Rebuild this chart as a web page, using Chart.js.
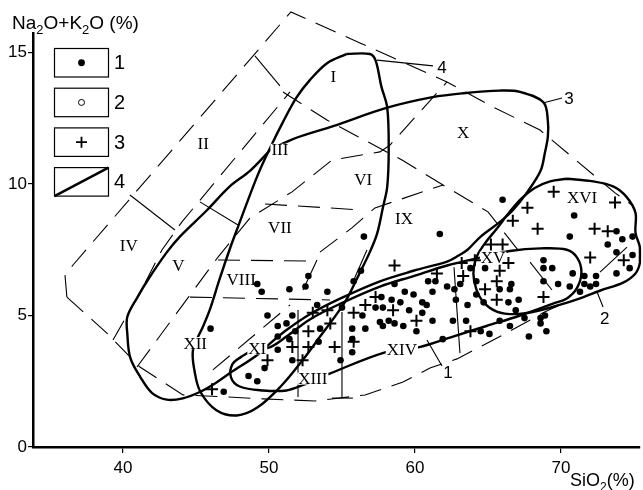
<!DOCTYPE html>
<html>
<head>
<meta charset="utf-8">
<script src="https://cdn.jsdelivr.net/npm/chart.js@4"></script>
<style>
  html, body { margin: 0; padding: 0; background: #fff; }
</style>
</head>
<body>
<canvas id="tas" width="643" height="490"></canvas>
<script>
const xTicks = [40, 50, 60, 70];
const yTicks = [0, 5, 10, 15];

// 1 - filled dots (SiO2, Na2O+K2O)
const dots = [
  [46.0,4.5],[46.9,2.1],[48.6,2.7],[49.2,2.5],[49.7,3.0],[50.6,3.7],[50.6,4.2],[51.4,4.1],[51.6,3.3],
  [49.9,5.0],[50.6,4.6],[51.2,4.7],[51.6,5.0],[51.8,4.4],[49.2,6.2],[49.5,5.9],[51.4,6.0],[52.5,6.1],
  [52.7,6.5],[54.0,5.9],[55.8,6.3],[56.3,6.7],[56.5,8.0],[53.4,4.0],[53.5,4.5],[54.9,3.3],[55.7,4.5],
  [55.7,4.1],[55.7,3.6],[55.0,5.3],[53.3,5.4],[56.4,5.0],[56.6,4.5],[57.3,5.3],[57.7,5.7],[57.8,5.3],
  [57.8,4.6],[58.4,5.6],[58.6,6.2],[58.6,4.7],[59.0,5.5],[59.3,5.9],[59.9,5.8],[60.1,4.4],[60.5,5.5],
  [60.8,5.4],[60.5,5.1],[61.2,5.9],[60.9,6.3],[61.4,6.3],[61.9,4.1],[62.2,6.1],[62.7,6.0],[63.1,6.2],
  [64.2,6.3],[64.2,5.8],[62.8,5.6],[63.6,5.4],[64.7,5.5],[65.8,6.0],[64.8,6.8],[63.8,6.8],[66.0,9.4],
  [61.7,8.1],[66.4,5.5],[67.1,5.6],[66.9,5.2],[66.6,6.2],[66.5,6.0],[68.8,7.1],[68.8,6.8],[69.4,6.8],
  [68.8,6.3],[69.8,6.2],[70.8,6.6],[70.6,6.1],[71.6,6.5],[72.4,6.5],[71.6,6.2],[72.0,6.1],[72.4,6.2],
  [71.3,5.9],[70.9,8.8],[70.6,8.0],[73.8,8.2],[74.9,8.0],[74.2,7.9],[73.2,7.7],[73.8,7.4],[74.9,7.3],
  [74.7,6.8],[73.8,6.6],[67.5,4.9],[68.6,4.9],[68.9,5.0],[68.6,4.7],[69.0,4.4],[67.8,4.2],[66.5,4.6],
  [65.8,4.8],[65.1,4.3],[64.5,4.4],[63.5,4.8],[62.6,4.8],[61.2,4.8],[58.2,4.8],[59.2,4.6],[57.6,4.75],
  [59.6,5.2]
];

// 3 - crosses
const pluses = [
  [46.1,2.2],[49.9,3.3],[51.6,3.8],[52.3,3.3],[52.7,3.8],[52.7,4.4],[53.0,5.1],[54.0,5.2],[54.2,4.7],
  [54.5,3.8],[55.8,5.1],[55.8,4.0],[56.6,5.4],[57.3,5.7],[58.5,5.2],[58.6,6.9],[60.1,4.8],[61.5,6.6],
  [63.2,7.0],[64.1,7.1],[63.3,6.5],[64.8,6.0],[65.6,6.3],[65.6,5.6],[65.8,6.7],[66.4,7.0],[65.2,7.7],
  [66.0,7.7],[66.7,8.6],[67.7,9.1],[68.4,8.3],[69.5,9.7],[68.8,5.7],[72.0,7.2],[72.3,8.3],[73.2,8.2],
  [73.7,9.3],[74.3,7.1],[63.8,4.4]
];

// outlined fields (thick curves)
const curveI = [
  [55.3,14.94],[56.9,14.94],[57.3,14.7],[57.7,13.7],[58.1,12.9],[58.2,11.3],[58.1,9.9],[57.8,9.1],
  [57.4,8.1],[56.9,7.4],[56.2,6.6],[55.4,5.7],[54.7,5.1],[53.5,4.2],[52.3,3.3],[50.8,2.3],[49.2,1.5],
  [47.8,1.2],[46.4,1.4],[45.3,2.1],[44.9,2.9],[44.8,3.7],[45.5,4.6],[46.0,5.3],[46.6,6.35],[47.3,7.5],
  [47.9,8.4],[49.2,10.3],[50.1,11.4],[51.0,12.4],[51.9,13.3],[52.8,13.95],[54.0,14.6],[55.3,14.94]
];
const curve1 = [
  [48.15,3.45],[49.0,3.7],[50.1,3.8],[51.2,4.2],[52.8,4.85],[54.9,5.45],[57.6,6.1],[59.9,6.5],[62.2,6.9],
  [64.45,7.2],[66.5,7.45],[68.6,7.55],[70.4,7.5],[71.1,7.2],[71.4,6.65],[71.1,6.05],[70.4,5.65],
  [69.45,5.45],[67.2,5.0],[64.9,4.6],[62.6,4.2],[60.3,3.8],[57.95,3.6],[54.2,2.8],[52.3,2.35],
  [51.2,2.15],[49.6,2.15],[48.0,2.3],[47.4,2.65],[47.5,3.15],[48.15,3.45]
];
const curve2 = [
  [70.4,10.2],[72.2,10.1],[73.6,9.9],[74.5,9.5],[75.1,8.9],[75.1,8.15],[75.4,7.6],[75.4,7.0],[75.1,6.6],
  [74.25,6.25],[72.7,5.95],[71.3,5.65],[69.9,5.4],[68.2,5.15],[66.85,5.05],[65.6,5.15],[64.7,5.5],
  [64.2,6.0],[64.0,6.6],[64.2,7.2],[64.8,7.75],[65.6,8.3],[66.5,8.95],[67.3,9.45],[68.2,9.85],
  [69.25,10.1],[70.4,10.2]
];
const curve3 = [
  [50.1,11.3],[51.6,11.7],[54.4,12.2],[58.1,12.9],[61.2,13.3],[63.3,13.45],[65.8,13.55],[67.2,13.5],
  [68.8,13.1],[69.1,12.4],[69.1,11.8],[68.9,11.2],[68.6,10.5],[67.7,9.7],[66.7,9.0],[65.8,8.55],
  [64.5,8.0],[63.6,7.5],[62.9,7.25],[62.2,7.05],[59.9,6.7],[57.6,6.3],[54.9,5.65],[52.8,5.05],
  [51.2,4.45],[50.1,3.95],[49.2,3.5],[47.3,2.8],[46.4,2.45],[45.3,2.1],[44.1,1.85],[43.0,1.8],
  [42.0,2.05],[41.2,2.65],[40.5,3.4],[40.3,4.3],[40.3,4.95],[41.0,5.7],[41.7,6.35],[43.0,7.4],
  [43.9,8.0],[45.75,9.0],[47.3,9.9],[48.7,10.5],[50.1,11.3]
];

// field boundaries (dashed)
const dashLines = [
  [[36.16,5.70],[36.03,6.54],[36.58,6.92],[51.5,16.54],[56.23,15.36],[62.19,13.88],[65.34,12.93],
   [68.56,12.05],[71.16,10.84],[73.70,9.66],[74.86,9.20]],
  [[36.16,5.70],[38.90,4.33],[41.16,3.04],[44.11,1.98],[47.19,1.90],[49.59,1.83],[53.15,1.75],
   [56.58,1.98],[59.18,2.47],[61.03,3.00],[62.88,3.35],[66.03,4.26],[68.77,5.10],[69.93,5.40]],
  [[39.32,4.07],[41.16,5.86],[42.67,7.49],[44.04,8.56],[51.44,13.50]],
  [[40.96,3.04],[44.45,5.67],[46.51,7.22],[48.70,8.71],[51.58,9.70],[54.32,10.91],[57.60,11.22],
   [58.29,11.48],[62.19,13.88]],
  [[49.73,9.24],[56.37,9.01]],
  [[53.49,7.41],[55.68,8.33],[57.26,9.09],[58.49,9.32],[61.92,9.96]],
  [[46.51,7.11],[52.81,7.07]],
  [[44.59,5.70],[54.18,5.59]],
  [[46.16,2.93],[51.44,5.40]],
  [[50.96,13.50],[53.97,12.43],[59.11,10.91],[61.92,9.96],[65.0,8.94],[67.05,7.49]]
];

// thin solid segments: ticks, tie lines and leaders
const thinLines = [
  [[40.48,9.58],[43.56,8.25]],
  [[45.27,9.32],[47.88,8.44]],
  [[49.04,14.87],[50.75,13.73]],
  [[57.40,14.71],[61.23,14.49]],
  [[68.77,13.08],[70.07,13.27]],
  [[67.88,7.03],[69.38,5.97]],
  [[72.67,6.65],[74.52,7.60]],
  [[72.47,5.89],[72.88,5.32]],
  [[62.67,6.84],[63.08,3.57]],
  [[60.82,4.07],[61.85,3.08]],
  [[51.99,5.21],[51.99,1.90]],
  [[55.0,5.13],[55.0,1.86]],
  [[54.32,1.86],[55.75,1.86]],
  [[52.33,5.97],[53.29,7.11]],
  [[55.75,6.27],[56.71,7.49]]
];

const fieldNames = ['I','II','III','IV','V','VI','VII','VIII','IX','X','XI','XII','XIII','XIV','XV','XVI'];
const fieldPos = [[54.4,14.1],[45.5,11.55],[50.75,11.3],[40.4,7.65],[43.8,6.9],[56.45,10.15],[50.75,8.35],
  [48.1,6.35],[59.25,8.7],[63.3,11.95],[49.2,3.75],[44.95,3.95],[53.0,2.6],[59.1,3.7],[65.35,7.2],[71.45,9.5]];
const curveNames = ['1','2','3','4'];
const curvePos = [[62.26,2.85],[73.0,4.9],[70.55,13.27],[61.85,14.45]];
const legendNames = ['1','2','3','4'];

const SANS = '"Liberation Sans", Arial, sans-serif';
const SERIF = '"Liberation Serif", "Times New Roman", serif';

function lineSet(data, width, dash) {
  return {
    data: data, showLine: true, pointRadius: 0, pointHoverRadius: 0,
    borderColor: '#000', borderWidth: width, borderDash: dash || [],
    tension: 0, clip: false
  };
}

const datasets = [
  { data: dots, pointStyle: 'circle', pointRadius: 3.3, pointHoverRadius: 3.3,
    backgroundColor: '#000', borderColor: '#000', borderWidth: 0, clip: false },
  { data: pluses, pointStyle: 'cross', pointRadius: 6, pointHoverRadius: 6,
    borderColor: '#000', borderWidth: 2, clip: false }
];
[curveI, curve1, curve2, curve3].forEach(c => {
  const d = lineSet(c, 2.4);
  d.tension = 0.35;
  d.borderJoinStyle = 'round';
  datasets.push(d);
});
dashLines.forEach(l => datasets.push(lineSet(l, 1.1, [22, 11])));
thinLines.forEach(l => datasets.push(lineSet(l, 1.1)));

function drawParts(ctx, parts, x, y, size, subSize) {
  parts.forEach(p => {
    ctx.font = (p[1] ? subSize : size) + 'px ' + SANS;
    ctx.fillText(p[0], x, y + (p[1] ? 5 : 0));
    x += ctx.measureText(p[0]).width;
  });
}

const overlay = {
  id: 'overlay',
  beforeDatasetDraw(chart, args) {
    if (args.index !== 1) return;
    const { ctx } = chart;
    const xs = chart.scales.x, ys = chart.scales.y;
    ctx.save();
    ctx.textAlign = 'center';
    ctx.textBaseline = 'middle';
    ctx.font = '17px ' + SERIF;
    fieldNames.forEach((t, i) => {
      const px = xs.getPixelForValue(fieldPos[i][0]);
      const py = ys.getPixelForValue(fieldPos[i][1]);
      const w = ctx.measureText(t).width;
      ctx.fillStyle = '#fff';
      ctx.fillRect(px - w / 2 - 1, py - 6, w + 2, 12);
      ctx.fillStyle = '#000';
      ctx.fillText(t, px, py + 1);
    });
    ctx.font = '17px ' + SANS;
    curveNames.forEach((t, i) => {
      const px = xs.getPixelForValue(curvePos[i][0]);
      const py = ys.getPixelForValue(curvePos[i][1]);
      ctx.fillStyle = '#fff';
      ctx.fillRect(px - 5, py - 6, 10, 12);
      ctx.fillStyle = '#000';
      ctx.fillText(t, px, py + 1);
    });
    ctx.restore();
  },
  afterDraw(chart) {
    const { ctx } = chart;
    ctx.save();
    ctx.fillStyle = '#000';
    ctx.strokeStyle = '#000';
    ctx.textAlign = 'left';
    ctx.textBaseline = 'alphabetic';
    drawParts(ctx, [['Na',0],['2',1],['O+K',0],['2',1],['O (%)',0]], 12, 29, 19, 13);
    drawParts(ctx, [['SiO',0],['2',1],['(%)',0]], 570, 486, 18, 12);

    // legend
    const bx = 54.5, bw = 54, bh = 28.5;
    legendNames.forEach((t, i) => {
      const top = 48.5 + i * 39.7;
      ctx.fillStyle = '#fff';
      ctx.fillRect(bx, top, bw, bh);
      ctx.lineWidth = 1.2;
      ctx.strokeRect(bx, top, bw, bh);
      const cx = bx + bw / 2, cy = top + bh / 2;
      ctx.fillStyle = '#000';
      if (i === 0) {
        ctx.beginPath(); ctx.arc(cx, cy, 3.4, 0, Math.PI * 2); ctx.fill();
      } else if (i === 1) {
        ctx.lineWidth = 1; ctx.beginPath(); ctx.arc(cx, cy, 3, 0, Math.PI * 2); ctx.stroke();
      } else if (i === 2) {
        ctx.lineWidth = 1.8; ctx.beginPath();
        ctx.moveTo(cx - 5.5, cy); ctx.lineTo(cx + 5.5, cy);
        ctx.moveTo(cx, cy - 5.5); ctx.lineTo(cx, cy + 5.5); ctx.stroke();
      } else {
        ctx.lineWidth = 2.5; ctx.beginPath();
        ctx.moveTo(bx, top + bh); ctx.lineTo(bx + bw, top); ctx.stroke();
      }
      ctx.font = '20px ' + SANS;
      ctx.textBaseline = 'middle';
      ctx.fillText(t, 114, cy + 1);
      ctx.textBaseline = 'alphabetic';
    });
    ctx.restore();
  }
};

new Chart(document.getElementById('tas'), {
  type: 'scatter',
  data: { datasets: datasets },
  options: {
    responsive: false,
    animation: false,
    events: [],
    layout: { padding: { top: 33, right: 3, bottom: 0, left: 0 }, autoPadding: false },
    plugins: { legend: { display: false }, tooltip: { enabled: false } },
    scales: {
      x: {
        type: 'linear', min: 33.84, max: 75.41,
        afterBuildTicks: s => { s.ticks = xTicks.map(v => ({ value: v })); },
        afterFit: s => { s.height = 43; },
        grid: { drawOnChartArea: false, drawTicks: true, tickLength: 6, color: '#000', lineWidth: 1.2 },
        border: { display: true, color: '#000', width: 2.5 },
        ticks: { color: '#000', font: { size: 17, family: SANS }, padding: 5, maxRotation: 0, autoSkip: false }
      },
      y: {
        type: 'linear', min: 0, max: 15.74,
        afterBuildTicks: s => { s.ticks = yTicks.map(v => ({ value: v })); },
        afterFit: s => { s.width = 33; },
        grid: { drawOnChartArea: false, drawTicks: true, tickLength: 5, color: '#000', lineWidth: 1.2 },
        border: { display: true, color: '#000', width: 2.5 },
        ticks: { color: '#000', font: { size: 17, family: SANS }, padding: 1, autoSkip: false }
      }
    }
  },
  plugins: [overlay]
});
</script>
</body>
</html>
